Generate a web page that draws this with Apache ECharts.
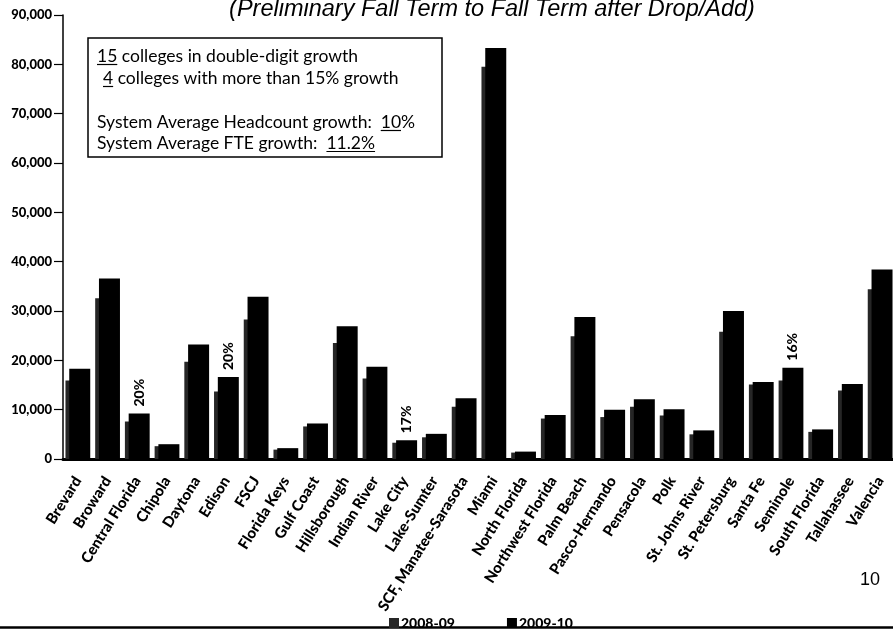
<!DOCTYPE html>
<html><head><meta charset="utf-8">
<script src="https://cdn.jsdelivr.net/npm/echarts@6/dist/echarts.min.js"></script>
<style>html,body{margin:0;padding:0;background:#fff}#c{width:893px;height:629px}</style>
</head><body><div id="c"></div>
<script>
const colleges = ['Brevard','Broward','Central Florida','Chipola','Daytona','Edison','FSCJ','Florida Keys','Gulf Coast','Hillsborough','Indian River','Lake City','Lake-Sumter','SCF, Manatee-Sarasota','Miami','North Florida','Northwest Florida','Palm Beach','Pasco-Hernando','Pensacola','Polk','St. Johns River','St. Petersburg','Santa Fe','Seminole','South Florida','Tallahassee','Valencia'];
const fall2008 = [15900,32600,7600,2600,19700,13700,28300,1900,6600,23500,16300,3300,4400,10600,79500,1300,8200,24900,8500,10600,8800,5000,25800,15100,15900,5500,13900,34400];
const fall2009 = [18300,36600,9200,3000,23200,16600,32900,2200,7200,26900,18700,3800,5100,12300,83300,1500,8900,28800,10000,12100,10100,5800,30000,15600,18500,6000,15200,38400];
const growthNotes = [null,null,'20%',null,null,'20%',null,null,null,null,null,'17%',null,null,null,null,null,null,null,null,null,null,null,null,'16%',null,null,null];
const seriesNames = ['2008-09','2009-10'];
const titleText = '(Preliminary Fall Term to Fall Term after Drop/Add)';
const pageNumber = '10';
const boxLines = [
  [['15', true], [' colleges in double-digit growth', false]],
  [['4', true], [' colleges with more than 15% growth', false]],
  [['System Average Headcount growth:  ', false], ['10', true], ['%', false]],
  [['System Average FTE growth:  ', false], ['11.2%', true]]
];

const boxFont = 'normal 17.5px Lato';
const ctx = document.createElement('canvas').getContext('2d');
ctx.font = boxFont;
const boxPos = [[97,56],[103,78],[97,122],[97,143]];
const boxEls = [{type:'rect', shape:{x:88,y:38,width:354,height:119}, style:{fill:'#fff', stroke:'#000', lineWidth:1.5}, z:10}];
boxLines.forEach((segs, i) => {
  let x = boxPos[i][0]; const y = boxPos[i][1];
  segs.forEach(([t, u]) => {
    const w = ctx.measureText(t).width;
    boxEls.push({type:'text', x:x, y:y, style:{text:t, font:boxFont, fill:'#000', align:'left', verticalAlign:'middle'}, z:11});
    if (u) boxEls.push({type:'line', shape:{x1:x, y1:y+8.5, x2:x+w, y2:y+8.5}, style:{stroke:'#000', lineWidth:1.2}, z:11});
    x += w;
  });
});

const chart = echarts.init(document.getElementById('c'), null, {renderer:'canvas'});
const labelFont = {fontFamily:'Lato', fontWeight:900, color:'#000'};
chart.setOption({
  animation:false,
  backgroundColor:'#fff',
  grid:{left:63, right:-2, top:15, bottom:170, containLabel:false, outerBoundsMode:'none'},
  legend:{
    data:seriesNames, left:384, top:611, itemWidth:10, itemHeight:10, itemGap:52, selectedMode:false,
    icon:'rect', textStyle:Object.assign({fontSize:14, padding:[0,0,0,-3]}, labelFont)
  },
  xAxis:{
    type:'category', data:colleges,
    axisLine:{lineStyle:{color:'#000', width:3}},
    axisTick:{length:9, lineStyle:{color:'#000', width:1.5}},
    axisLabel:Object.assign({rotate:58, margin:19, fontSize:15, interval:0, hideOverlap:false}, labelFont),
    splitLine:{show:false}
  },
  yAxis:{
    type:'value', min:0, max:90000, interval:10000,
    axisLine:{show:true, lineStyle:{color:'#000', width:1.5}},
    axisTick:{show:true, length:9, lineStyle:{color:'#000', width:1.2}},
    axisLabel:Object.assign({margin:11, fontSize:13, formatter:v => v.toLocaleString('en-US')}, labelFont),
    splitLine:{show:false}
  },
  series:[
    {name:seriesNames[0], type:'bar', data:fall2008, barWidth:21, barGap:'-82%', itemStyle:{color:'#262626'}},
    {name:seriesNames[1], type:'bar', data:fall2009.map((v,i) => growthNotes[i] ? {value:v, label:{show:true, formatter:growthNotes[i]}} : v),
     barWidth:21, itemStyle:{color:'#000'},
     label:Object.assign({show:false, position:'top', rotate:90, align:'left', verticalAlign:'middle', distance:7, fontSize:14}, labelFont)}
  ],
  graphic:[
    {type:'text', x:492, y:9.5, style:{text:titleText, font:'italic 23.5px "Liberation Sans"', fill:'#000', align:'center', verticalAlign:'middle'}},
    {type:'text', x:880, y:580, style:{text:pageNumber, font:'normal 18px "Liberation Sans"', fill:'#000', align:'right', verticalAlign:'middle'}},
    {type:'line', shape:{x1:0, y1:627.5, x2:893, y2:627.5}, style:{stroke:'#000', lineWidth:2.5}},
    {type:'group', children:boxEls}
  ]
});
</script></body></html>
